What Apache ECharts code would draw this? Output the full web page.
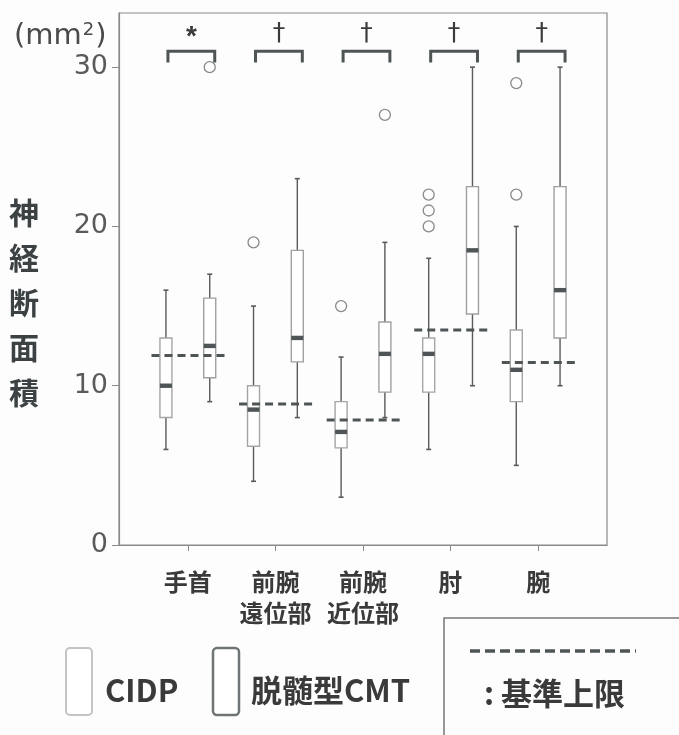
<!DOCTYPE html>
<html>
<head>
<meta charset="utf-8">
<script src="https://cdn.jsdelivr.net/npm/echarts@6/dist/echarts.min.js"></script>
<style>
html,body{margin:0;padding:0;background:#fdfdfd;}
#chart{width:679px;height:735px;}
</style>
</head>
<body>
<div id="chart"></div>
<script>
// ---- data ----
const categories = ['手首', '前腕\n遠位部', '前腕\n近位部', '肘', '腕'];
const yTicks = [0, 10, 20, 30];
// [low whisker, Q1, median, Q3, high whisker]
const cidpBox = [
  [6, 8, 10, 13, 16],
  [4, 6.2, 8.5, 10, 15],
  [3, 6.1, 7.1, 9, 11.8],
  [6, 9.6, 12, 13, 18],
  [5, 9, 11, 13.5, 20]
];
const cmtBox = [
  [9, 10.5, 12.5, 15.5, 17],
  [8, 11.5, 13, 18.5, 23],
  [8, 9.6, 12, 14, 19],
  [10, 14.5, 18.5, 22.5, 30],
  [10, 13, 16, 22.5, 30]
];
// [category index, value]
const cidpOutliers = [[1, 19], [2, 15], [3, 22], [3, 21], [3, 20], [4, 29], [4, 22]];
const cmtOutliers = [[0, 30], [2, 27]];
const refUpper = [11.9, 8.85, 7.85, 13.5, 11.45];
const sigMarks = ['*', '†', '†', '†', '†'];
const seriesNames = ['CIDP', '脱髄型CMT'];

const chart = echarts.init(document.getElementById('chart'), null, {renderer: 'canvas'});

const OFF = 0.25;
function boxRender(offset, stroke) {
  return function (params, api) {
    const i = api.value(0);
    const x = api.coord([i + offset, 0])[0];
    const yLo = api.coord([0, api.value(1)])[1];
    const yQ1 = api.coord([0, api.value(2)])[1];
    const yMed = api.coord([0, api.value(3)])[1];
    const yQ3 = api.coord([0, api.value(4)])[1];
    const yHi = api.coord([0, api.value(5)])[1];
    const w = 12;
    const ws = {stroke: '#5a5a5a', lineWidth: 1.4};
    return {
      type: 'group',
      children: [
        {type: 'line', shape: {x1: x, y1: yHi, x2: x, y2: yQ3}, style: ws},
        {type: 'line', shape: {x1: x, y1: yQ1, x2: x, y2: yLo}, style: ws},
        {type: 'line', shape: {x1: x - 2.5, y1: yHi, x2: x + 2.5, y2: yHi}, style: {stroke: '#5a5a5a', lineWidth: 1.6}},
        {type: 'line', shape: {x1: x - 2.5, y1: yLo, x2: x + 2.5, y2: yLo}, style: {stroke: '#5a5a5a', lineWidth: 1.6}},
        {type: 'rect', shape: {x: x - w / 2, y: yQ3, width: w, height: yQ1 - yQ3}, style: {fill: '#ffffff', stroke: stroke, lineWidth: 1.4}},
        {type: 'rect', shape: {x: x - w / 2, y: yMed - 2.2, width: w, height: 4.4}, style: {fill: '#4f5556'}}
      ]
    };
  };
}
function outlierRender(offset) {
  return function (params, api) {
    const p = api.coord([api.value(0) + offset, api.value(1)]);
    return {type: 'circle', shape: {cx: p[0], cy: p[1], r: 5.5}, style: {fill: 'none', stroke: '#8a8a8a', lineWidth: 1.3}};
  };
}

const boxData = (arr) => arr.map((b, i) => [i].concat(b));

const option = {
  backgroundColor: '#fdfdfd',
  animation: false,
  grid: {left: 119, right: 72, top: 13, bottom: 190, show: true, borderColor: '#8a8a8a', borderWidth: 1.2, backgroundColor: 'transparent'},
  xAxis: {
    type: 'value', min: -0.786, max: 4.786,
    splitLine: {show: false},
    axisLine: {show: true, onZero: false, lineStyle: {color: '#8a8a8a', width: 1.2}},
    axisTick: {show: true, customValues: [0, 1, 2, 3, 4], length: 6, lineStyle: {color: '#8a8a8a'}},
    axisLabel: {
      customValues: [0, 1, 2, 3, 4],
      formatter: (v) => categories[Math.round(v)],
      margin: 21,
      color: '#3a3a3a', fontSize: 24, fontWeight: 'bold', lineHeight: 31,
      fontFamily: 'Noto Sans CJK JP'
    }
  },
  yAxis: {
    type: 'value', min: 0, max: 33.4,
    splitLine: {show: false},
    axisLine: {show: true, onZero: false, lineStyle: {color: '#8a8a8a', width: 1.2}},
    axisTick: {show: true, customValues: yTicks, length: 7, lineStyle: {color: '#8a8a8a'}},
    axisLabel: {customValues: yTicks, margin: 11, color: '#5a5a5a', fontSize: 27, fontFamily: 'DejaVu Sans'}
  },
  series: [
    {
      name: seriesNames[0], type: 'custom', renderItem: boxRender(-OFF, '#a5a5a5'),
      data: boxData(cidpBox), encode: {x: 0, y: [1, 2, 3, 4, 5]}, z: 3
    },
    {
      name: seriesNames[1], type: 'custom', renderItem: boxRender(OFF, '#a0a0a0'),
      data: boxData(cmtBox), encode: {x: 0, y: [1, 2, 3, 4, 5]}, z: 3
    },
    {
      name: 'CIDP outliers', type: 'custom', renderItem: outlierRender(-OFF),
      data: cidpOutliers, encode: {x: 0, y: 1}, z: 4
    },
    {
      name: 'CMT outliers', type: 'custom', renderItem: outlierRender(OFF),
      data: cmtOutliers, encode: {x: 0, y: 1}, z: 4
    },
    {
      name: '基準上限', type: 'custom', z: 5,
      data: refUpper.map((v, i) => [i, v]), encode: {x: 0, y: 1},
      renderItem: function (params, api) {
        const a = api.coord([api.value(0) - 0.415, api.value(1)]);
        const b = api.coord([api.value(0) + 0.445, api.value(1)]);
        return {type: 'line', shape: {x1: a[0], y1: a[1], x2: b[0], y2: b[1]},
          style: {stroke: '#4f5556', lineWidth: 3, lineDash: [8, 5]}};
      }
    },
    {
      name: 'significance', type: 'custom', z: 5,
      data: sigMarks.map((m, i) => [i, 31]), encode: {x: 0, y: 1},
      renderItem: function (params, api) {
        const i = api.value(0);
        const left = api.coord([i - OFF, api.value(1)]);
        const right = api.coord([i + OFF, api.value(1)]);
        const legY = api.coord([i, 30.3])[1];
        const txtY = api.coord([i, 32.1])[1];
        const x1 = left[0] + 2, x2 = right[0] + 5, y = left[1];
        const st = {stroke: '#4f5556', lineWidth: 3, fill: 'none'};
        const isStar = sigMarks[params.dataIndex] === '*';
        return {type: 'group', children: [
          {type: 'polyline', shape: {points: [[x1, legY], [x1, y], [x2, y], [x2, legY]]}, style: st},
          {type: 'text', style: {text: sigMarks[params.dataIndex], x: (x1 + x2) / 2, y: isStar ? txtY + 4 : txtY,
            align: 'center', verticalAlign: 'middle', fill: '#3a3a3a',
            font: isStar ? 'bold 28px "Liberation Sans"' : '25px "DejaVu Sans"'}}
        ]};
      }
    }
  ],
  graphic: [
    {type: 'text', left: 14, top: 21, style: {
      text: '(mm{s|2})', fill: '#4a4a4a', font: '29px "DejaVu Sans"',
      rich: {s: {fontSize: 18, verticalAlign: 'top', padding: [0, 1, 12, 1], fill: '#4a4a4a', fontFamily: 'DejaVu Sans'}}
    }},
    {type: 'text', left: 9, top: 190, style: {
      text: '神\n経\n断\n面\n積', fill: '#3c4244', font: 'bold 30px "Noto Sans CJK JP"', lineHeight: 45
    }},
    // legend: CIDP
    {type: 'rect', shape: {x: 66, y: 648, width: 26, height: 67, r: 4}, style: {fill: '#ffffff', stroke: '#c4c4c4', lineWidth: 2}},
    {type: 'text', x: 105, y: 690, style: {text: seriesNames[0], fill: '#3a3a3a', font: 'bold 31px "Noto Sans CJK JP"', verticalAlign: 'middle'}},
    // legend: CMT
    {type: 'rect', shape: {x: 213, y: 648, width: 26, height: 67, r: 4}, style: {fill: '#ffffff', stroke: '#6f7476', lineWidth: 2.5}},
    {type: 'text', x: 251, y: 690, style: {text: seriesNames[1], fill: '#3a3a3a', font: 'bold 31px "Noto Sans CJK JP"', verticalAlign: 'middle'}},
    // reference legend box
    {type: 'rect', shape: {x: 444, y: 618, width: 250, height: 130}, style: {fill: 'none', stroke: '#777', lineWidth: 1.5}},
    {type: 'line', shape: {x1: 470, y1: 651, x2: 636, y2: 651}, style: {stroke: '#4f5556', lineWidth: 3.5, lineDash: [10, 5]}},
    {type: 'text', x: 484, y: 693, style: {text: ': 基準上限', fill: '#3a3a3a', font: 'bold 31px "Noto Sans CJK JP"', verticalAlign: 'middle'}}
  ]
};
chart.setOption(option);
</script>
</body>
</html>
